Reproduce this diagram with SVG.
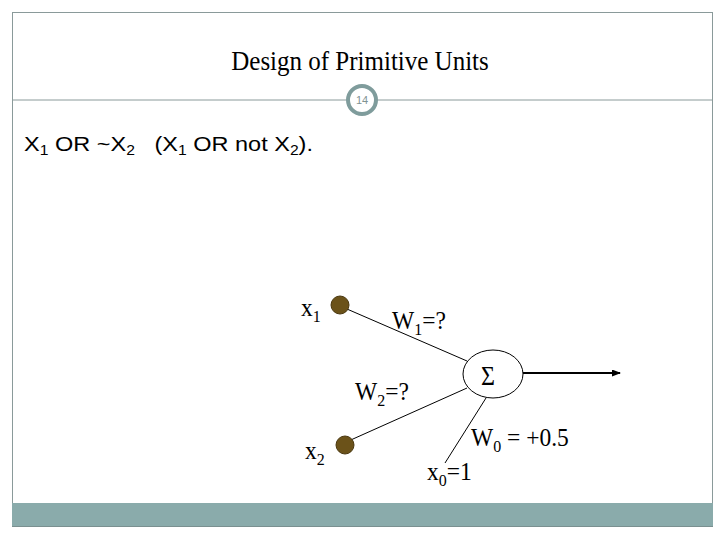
<svg xmlns="http://www.w3.org/2000/svg" width="720" height="540" viewBox="0 0 720 540">
<defs>
<style>
.serif{font-family:"Liberation Serif","Times New Roman",serif;fill:#000}
.sans{font-family:"Liberation Sans",Arial,sans-serif;fill:#000}
.in{fill:#6b5219;stroke:#4a3810;stroke-width:1}
.conn{stroke:#000;stroke-width:1;fill:none}
.lbl{font-size:23.5px}
</style>
<marker id="ah" markerWidth="9" markerHeight="7" refX="8" refY="3.5" orient="auto" markerUnits="userSpaceOnUse">
<path d="M0,0 L9,3.5 L0,7 Z" fill="#000"/>
</marker>
</defs>
<rect x="0" y="0" width="720" height="540" fill="#fff"/>
<rect x="12.5" y="12.5" width="700" height="514" fill="none" stroke="#8a9a9a" stroke-width="1"/>
<rect x="12" y="503" width="701" height="24" fill="#8aabab"/>
<line x1="12" y1="526.5" x2="713" y2="526.5" stroke="#7a9090" stroke-width="1"/>
<line x1="12" y1="100" x2="713" y2="100" stroke="#8a9a9a" stroke-width="1"/>
<g id="badge">
<circle cx="362" cy="100" r="14" fill="#fff" stroke="#7f9c9c" stroke-width="4"/>
<text x="362" y="104" font-size="11" text-anchor="middle" class="sans" style="fill:#7f9393">14</text>
</g>
<text transform="translate(360,70) scale(1,1.06)" x="0" y="0" font-size="25" text-anchor="middle" class="serif">Design of Primitive Units</text>
<text transform="translate(24,151) scale(1.12,1)" x="0" y="0" font-size="21" class="sans">X<tspan font-size="14" dy="4">1</tspan><tspan dy="-4"> OR ~X</tspan><tspan font-size="14" dy="4">2</tspan><tspan dy="-4" xml:space="preserve">   (X</tspan><tspan font-size="14" dy="4">1</tspan><tspan dy="-4"> OR not X</tspan><tspan font-size="14" dy="4">2</tspan><tspan dy="-4">).</tspan></text>
<g id="connectors">
<line class="conn" x1="340" y1="306" x2="467" y2="361"/>
<line class="conn" x1="344" y1="443" x2="467" y2="388"/>
<line class="conn" x1="486" y1="398" x2="445" y2="463"/>
<line x1="523" y1="373" x2="620" y2="373" stroke="#000" stroke-width="2" marker-end="url(#ah)"/>
</g>
<g id="x1">
<circle class="in" cx="340" cy="305" r="9"/>
<text transform="translate(301,316) scale(1,1.1)" x="0" y="0" class="serif lbl">x<tspan font-size="16" dy="5">1</tspan></text>
</g>
<g id="x2">
<circle class="in" cx="345" cy="445" r="9"/>
<text transform="translate(305,459) scale(1,1.1)" x="0" y="0" class="serif lbl">x<tspan font-size="16" dy="5">2</tspan></text>
</g>
<g id="sum">
<ellipse cx="493" cy="374" rx="30" ry="24" fill="#fff" stroke="#000" stroke-width="1"/>
<text transform="translate(488,385) scale(1,1.1)" x="0" y="0" font-size="24" text-anchor="middle" class="serif">Σ</text>
</g>
<text transform="translate(392,329) scale(1,1.1)" x="0" y="0" class="serif lbl">W<tspan font-size="16" dy="5">1</tspan><tspan dy="-5">=?</tspan></text>
<text transform="translate(355,400) scale(1,1.1)" x="0" y="0" class="serif lbl">W<tspan font-size="16" dy="5">2</tspan><tspan dy="-5">=?</tspan></text>
<text transform="translate(471,446) scale(1,1.1)" x="0" y="0" class="serif lbl">W<tspan font-size="16" dy="5">0</tspan><tspan dy="-5"> = +0.5</tspan></text>
<text transform="translate(427,480) scale(1,1.1)" x="0" y="0" class="serif lbl">x<tspan font-size="16" dy="5">0</tspan><tspan dy="-5">=1</tspan></text>
</svg>
